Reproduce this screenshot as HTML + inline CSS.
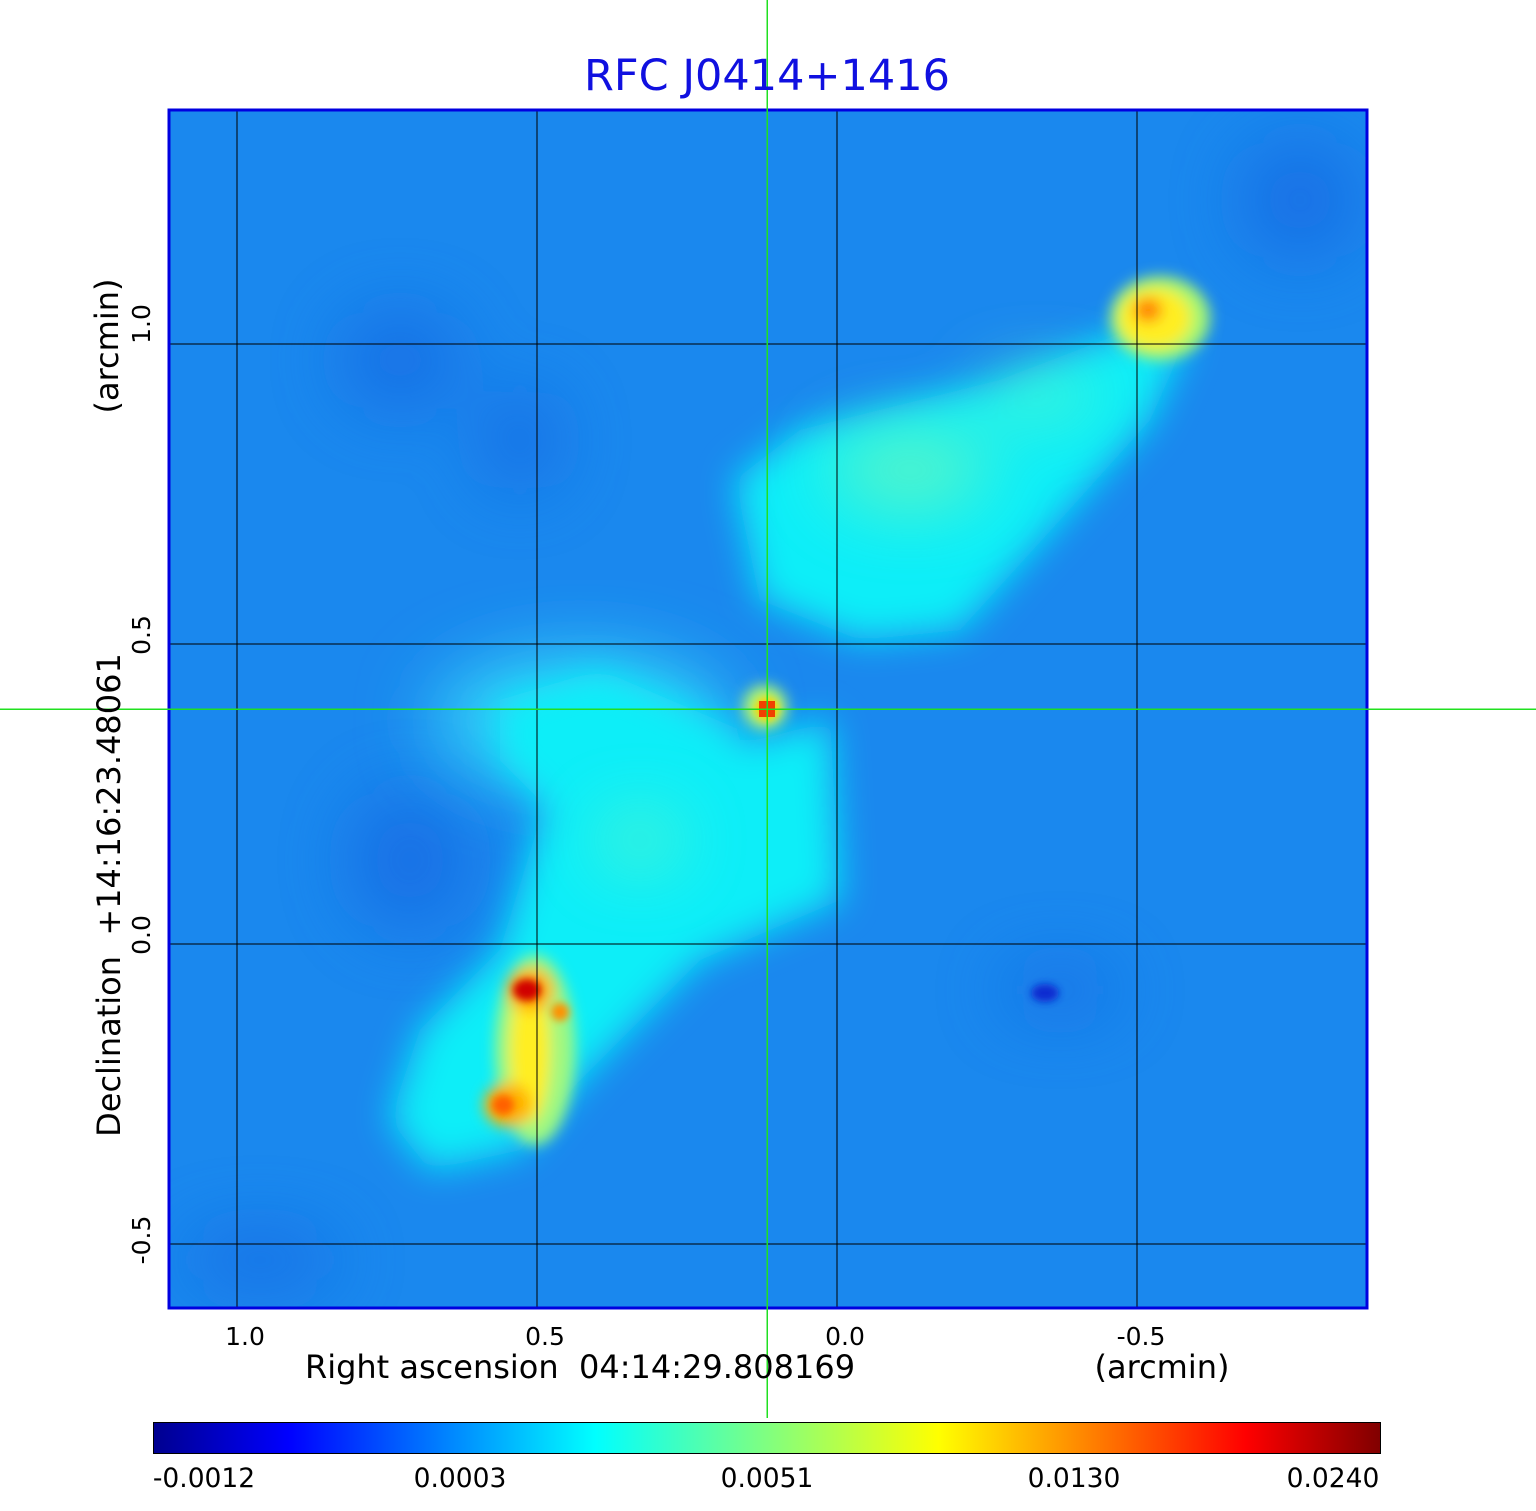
<!DOCTYPE html>
<html><head><meta charset="utf-8"><style>
body{margin:0;background:#fff;width:1536px;height:1511px;overflow:hidden;font-family:"DejaVu Sans","Liberation Sans",sans-serif}
</style></head><body>
<svg width="1536" height="1511" xmlns="http://www.w3.org/2000/svg" style="position:absolute;left:0;top:0">
<defs>
<clipPath id="c"><rect x="168" y="109" width="1200" height="1200"/></clipPath>
<filter id="b40" x="-50%" y="-50%" width="200%" height="200%"><feGaussianBlur stdDeviation="35"/></filter>
<filter id="b20" x="-50%" y="-50%" width="200%" height="200%"><feGaussianBlur stdDeviation="18"/></filter>
<filter id="b8" x="-50%" y="-50%" width="200%" height="200%"><feGaussianBlur stdDeviation="7"/></filter>
<filter id="b4" x="-50%" y="-50%" width="200%" height="200%"><feGaussianBlur stdDeviation="4"/></filter>
<linearGradient id="jet" x1="0" x2="1" y1="0" y2="0">
<stop offset="0" stop-color="#00008f"/><stop offset="0.11" stop-color="#0000ff"/>
<stop offset="0.36" stop-color="#00ffff"/><stop offset="0.5" stop-color="#80ff80"/>
<stop offset="0.64" stop-color="#ffff00"/><stop offset="0.89" stop-color="#ff0000"/>
<stop offset="1" stop-color="#800000"/></linearGradient>
</defs>
<g clip-path="url(#c)">
<rect x="168" y="109" width="1200" height="1200" fill="#1a88ee"/>
<g filter="url(#b40)" fill="#1560e0" opacity="0.6">
<ellipse cx="400" cy="360" rx="60" ry="50"/><ellipse cx="520" cy="440" rx="40" ry="50"/>
<ellipse cx="410" cy="860" rx="60" ry="70"/><ellipse cx="1300" cy="200" rx="60" ry="60"/>
<ellipse cx="260" cy="1260" rx="80" ry="30"/><ellipse cx="1060" cy="990" rx="60" ry="25"/>
</g>
<ellipse cx="1045" cy="993" rx="14" ry="9" fill="#0a2ad0" filter="url(#b4)"/>
<g filter="url(#b40)" fill="#30d0f8">
<ellipse cx="580" cy="720" rx="150" ry="70"/>
</g>
<g filter="url(#b20)" fill="#10eef8">
<polygon points="735,480 800,430 1000,380 1130,330 1190,330 1150,420 1060,520 960,630 860,640 760,600"/>
<polygon points="830,720 840,900 700,960 580,1080 520,1150 430,1170 390,1120 420,1030 500,950 540,820 600,760 760,740"/>
<polygon points="500,700 600,670 740,730 700,800 560,820 500,760"/>
</g>
<g filter="url(#b40)" fill="#7cf8b0" opacity="0.7">
<ellipse cx="910" cy="470" rx="80" ry="40"/><ellipse cx="1040" cy="395" rx="60" ry="20"/>
<ellipse cx="640" cy="840" rx="40" ry="25"/>
</g>
<g filter="url(#b8)">
<ellipse cx="1160" cy="318" rx="50" ry="42" fill="#a8f870"/>
<ellipse cx="1155" cy="318" rx="36" ry="30" fill="#ffee20"/>
<ellipse cx="1148" cy="310" rx="14" ry="12" fill="#ff8000"/>
<ellipse cx="535" cy="1050" rx="40" ry="95" fill="#a0f880"/>
<ellipse cx="530" cy="1050" rx="20" ry="72" fill="#ffee20"/>
<ellipse cx="530" cy="990" rx="24" ry="22" fill="#ffb000"/>
<ellipse cx="508" cy="1105" rx="24" ry="22" fill="#ffb000"/>
<ellipse cx="765" cy="707" rx="22" ry="22" fill="#b0f870"/>
</g>
<g filter="url(#b4)">
<ellipse cx="527" cy="990" rx="14" ry="11" fill="#d00000"/>
<ellipse cx="560" cy="1012" rx="9" ry="9" fill="#ff9000"/>
<ellipse cx="503" cy="1105" rx="11" ry="10" fill="#ff6000"/>
<ellipse cx="767" cy="709" rx="12" ry="12" fill="#ffd000"/>
</g>
<rect x="759" y="701" width="16" height="16" fill="#f04000"/>
<g stroke="#000" stroke-width="1">
<line x1="237" y1="109" x2="237" y2="1309"/><line x1="537" y1="109" x2="537" y2="1309"/>
<line x1="837" y1="109" x2="837" y2="1309"/><line x1="1137" y1="109" x2="1137" y2="1309"/>
<line x1="168" y1="344" x2="1368" y2="344"/><line x1="168" y1="644" x2="1368" y2="644"/>
<line x1="168" y1="944" x2="1368" y2="944"/><line x1="168" y1="1244" x2="1368" y2="1244"/>
</g>
</g>
<rect x="169" y="110" width="1198" height="1198" fill="none" stroke="#0000e0" stroke-width="3"/>
<rect x="766.5" y="0" width="1.5" height="1418" fill="#20e020"/>
<rect x="0" y="708.5" width="1536" height="1.5" fill="#20e020"/>
<text x="767" y="90" font-size="43" fill="#1010e0" text-anchor="middle">RFC J0414+1416</text>
<g font-size="25" fill="#000" text-anchor="middle">
<text x="245" y="1345">1.0</text><text x="545" y="1345">0.5</text>
<text x="845" y="1345">0.0</text><text x="1141" y="1345">-0.5</text>
<text x="580" y="1378" font-size="32">Right ascension&#160;&#160;04:14:29.808169</text>
<text x="1162" y="1378" font-size="32">(arcmin)</text>
<text transform="translate(150,324) rotate(-90)">1.0</text>
<text transform="translate(150,635) rotate(-90)">0.5</text>
<text transform="translate(150,935) rotate(-90)">0.0</text>
<text transform="translate(150,1240) rotate(-90)">-0.5</text>
<text transform="translate(120,895) rotate(-90)" font-size="32">Declination&#160;&#160;+14:16:23.48061</text>
<text transform="translate(118,346) rotate(-90)" font-size="32">(arcmin)</text>
<text x="204" y="1487" font-size="26.5">-0.0012</text><text x="460" y="1487" font-size="26.5">0.0003</text>
<text x="767" y="1487" font-size="26.5">0.0051</text><text x="1074" y="1487" font-size="26.5">0.0130</text>
<text x="1333" y="1487" font-size="26.5">0.0240</text>
</g>
<rect x="153.5" y="1422.5" width="1227" height="31" fill="url(#jet)" stroke="#000" stroke-width="1"/>
</svg>
</body></html>
